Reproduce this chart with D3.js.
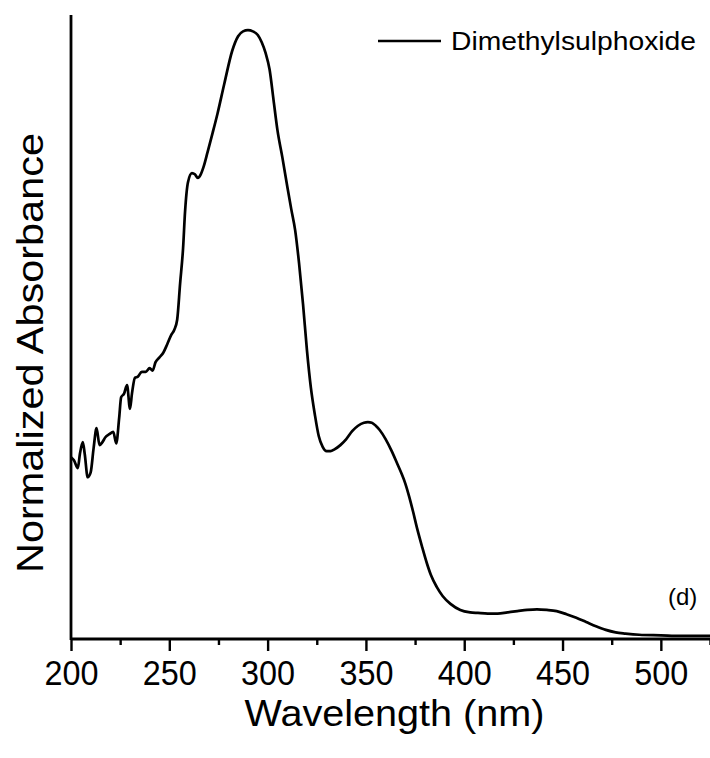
<!DOCTYPE html>
<html>
<head>
<meta charset="utf-8">
<script src="https://cdn.jsdelivr.net/npm/d3@7"></script>
<style>
  html, body { margin: 0; padding: 0; background: #fff; }
  text { font-family: Arial, "Liberation Sans", sans-serif; fill: #000; }
</style>
</head>
<body>
<svg id="chart" width="710" height="758"></svg>
<script>
// Data
const wavelength = [200,201.5,203.5,204.5,206,207,208.5,210,211.5,213,214.5,216,217.5,219.5,221.5,223,224.5,225.5,227,228.5,230,231,232.5,234,236,238,240,241.5,243,245,247,249,251,252.5,254,255.5,257,258,259.5,261.5,263,264.5,266,267.5,269.5,272,274.5,278,282,285,287.5,290,292.5,295,297,299,301,303,305,307.5,310,312,314,316,318,320,322,324,326,328,330,332,334,337,340,343,346,349,351,353,355,357,360,363,366,368,370,372,374,376,378.5,381,383,386,389,393,398,403,407,412,417,422,427,432,437,442,447,452,457,462,467,472,477,482,489,500,510,525];
const absorbance = [0.295,0.290,0.277,0.300,0.320,0.300,0.262,0.270,0.310,0.343,0.315,0.320,0.328,0.333,0.337,0.318,0.360,0.394,0.400,0.414,0.375,0.400,0.426,0.428,0.436,0.436,0.442,0.438,0.452,0.460,0.468,0.482,0.497,0.505,0.522,0.582,0.640,0.700,0.749,0.764,0.762,0.756,0.762,0.775,0.799,0.830,0.862,0.912,0.966,0.990,0.998,1.0,0.998,0.992,0.980,0.962,0.935,0.885,0.835,0.790,0.742,0.705,0.670,0.615,0.548,0.472,0.410,0.366,0.330,0.312,0.305,0.305,0.308,0.315,0.325,0.338,0.347,0.352,0.353,0.352,0.347,0.340,0.325,0.306,0.284,0.269,0.252,0.230,0.205,0.178,0.148,0.120,0.101,0.081,0.066,0.053,0.043,0.039,0.038,0.037,0.037,0.039,0.041,0.043,0.044,0.043,0.041,0.036,0.030,0.023,0.016,0.010,0.006,0.004,0.002,0.001,0.0,0.0];
const xTicks = [200,250,300,350,400,450,500];
const xMinorTicks = [225,275,325,375,425,475,525];
const seriesName = "Dimethylsulphoxide";
const panelLabel = "(d)";
const xTitle = "Wavelength (nm)";
const yTitle = "Normalized Absorbance";

const svg = d3.select("#chart");
const mLeft = 71, mRight = 710, mTop = 15, mBottom = 639;

const x = d3.scaleLinear().domain([200, 525]).range([mLeft, mRight]);
const y = d3.scaleLinear().domain([-0.005, 1.025]).range([mBottom, mTop]);

const data = wavelength.map((w, i) => ({w, a: absorbance[i]}));

// curve
svg.append("path")
  .datum(data)
  .attr("fill", "none")
  .attr("stroke", "#000")
  .attr("stroke-width", 2.7)
  .attr("stroke-linejoin", "round")
  .attr("d", d3.line().x(d => x(d.w)).y(d => y(d.a)).curve(d3.curveMonotoneX));

// x axis
const xAxis = svg.append("g").attr("transform", `translate(0,${mBottom})`);
xAxis.call(d3.axisBottom(x).tickValues(xTicks).tickSize(12).tickFormat(d3.format("d")));
xAxis.select(".domain").remove();
xAxis.selectAll(".tick line").attr("stroke-width", 2.4);
xAxis.selectAll(".tick text")
  .attr("font-size", 35)
  .attr("font-family", "Arial, 'Liberation Sans', sans-serif")
  .attr("fill", "#000")
  .attr("dy", null)
  .attr("y", 46)
  .attr("textLength", 54)
  .attr("lengthAdjust", "spacingAndGlyphs");
const minor = svg.append("g").attr("transform", `translate(0,${mBottom})`);
minor.call(d3.axisBottom(x).tickValues(xMinorTicks).tickSize(6).tickFormat(""));
minor.select(".domain").remove();
minor.selectAll(".tick line").attr("stroke-width", 2.4);

svg.append("line").attr("x1", mLeft).attr("x2", mRight).attr("y1", mBottom).attr("y2", mBottom)
  .attr("stroke", "#000").attr("stroke-width", 2.8);
svg.append("line").attr("x1", mLeft).attr("x2", mLeft).attr("y1", mTop).attr("y2", mBottom + 1)
  .attr("stroke", "#000").attr("stroke-width", 2.8);

// titles
svg.append("text").attr("x", (mLeft + mRight) / 2 + 4).attr("y", 726)
  .attr("text-anchor", "middle").attr("font-size", 37)
  .attr("textLength", 300).attr("lengthAdjust", "spacingAndGlyphs")
  .text(xTitle);
svg.append("text").attr("transform", "translate(43,353) rotate(-90)")
  .attr("text-anchor", "middle").attr("font-size", 37)
  .attr("textLength", 440).attr("lengthAdjust", "spacingAndGlyphs")
  .text(yTitle);

// legend
svg.append("line").attr("x1", 378).attr("x2", 441).attr("y1", 41).attr("y2", 41)
  .attr("stroke", "#000").attr("stroke-width", 2.6);
svg.append("text").attr("x", 451).attr("y", 50).attr("font-size", 25)
  .attr("textLength", 245).attr("lengthAdjust", "spacingAndGlyphs")
  .text(seriesName);

// panel label
svg.append("text").attr("x", 668).attr("y", 605).attr("font-size", 24).text(panelLabel);
</script>
</body>
</html>
